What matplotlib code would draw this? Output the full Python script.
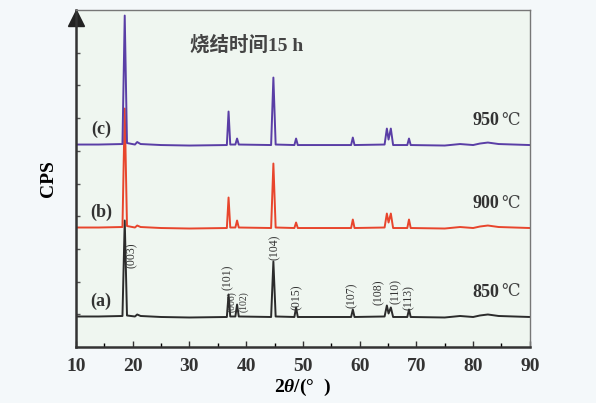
import matplotlib
matplotlib.use("Agg")
import matplotlib.pyplot as plt
import numpy as np

plt.rcParams['mathtext.fontset'] = 'custom'
plt.rcParams['mathtext.it'] = 'Liberation Serif:italic:bold'
plt.rcParams['mathtext.rm'] = 'Liberation Serif:bold'

### 2theta points, shared by the three patterns
two_theta = [10, 14, 18.2, 18.6, 19.0, 20.4, 20.8, 21.4, 25, 30,
             36.6, 36.9, 37.2, 38.1, 38.4, 38.7, 44.4, 44.8, 45.2,
             48.5, 48.8, 49.1, 58.5, 58.8, 59.1, 64.4, 64.8, 65.1, 65.5, 65.9,
             68.4, 68.7, 69.0, 75, 77.7, 80, 81.2, 82.6, 84.5, 90]

### intensities (arbitrary CPS) without the vertical shift
cps_850 = [10, 10, 15, 970, 20, 10, 30, 15, 5, 0,
           5, 230, 10, 10, 130, 10, 5, 560, 10,
           5, 100, 5, 5, 80, 5, 10, 120, 40, 100, 5,
           5, 80, 5, 0, 15, 5, 20, 30, 15, 5]
cps_900 = [10, 10, 15, 1200, 25, 10, 30, 15, 5, 0,
           5, 310, 10, 10, 80, 10, 5, 650, 10,
           5, 60, 5, 5, 90, 5, 10, 150, 60, 150, 5,
           5, 90, 5, 0, 15, 5, 20, 30, 15, 5]
cps_950 = [10, 10, 15, 1300, 25, 10, 35, 15, 5, 0,
           5, 340, 10, 10, 70, 10, 5, 680, 10,
           5, 70, 5, 5, 80, 5, 10, 170, 60, 170, 5,
           5, 70, 5, 0, 15, 5, 20, 30, 15, 5]

series_tags = ["(a)", "(b)", "(c)"]
temps = ["850", "900", "950"]

hkl = ["(003)", "(101)", "(006)", "(102)", "(104)", "(015)",
       "(107)", "(108)", "(110)", "(113)"]
hkl_x = [19.9, 36.8, 37.5, 39.6, 45.1, 48.9, 58.6, 63.4, 66.4, 68.6]
hkl_y = [920, 700, 450, 450, 1000, 500, 520, 550, 550, 490]
hkl_size = [8.5, 8.5, 7, 7, 8.5, 8.5, 8.5, 8.5, 8.5, 8.5]

shift = [295, 1185, 2015]
colors = ["#2b2b2b", "#e8452c", "#5a3ea6"]

fig = plt.figure(figsize=(5.96, 4.03), dpi=100, facecolor="#f4f8fa")
ax = fig.add_axes([0.1274, 0.139, 0.7616, 0.836], facecolor="#eff6f0")

x = np.array(two_theta)
for data, off, c in zip([cps_850, cps_900, cps_950], shift, colors):
    ax.plot(x, np.array(data) + off, color=c, lw=1.4)

serif = ['Liberation Serif', 'DejaVu Serif']
for tag, off in zip(series_tags, shift):
    ax.text(14.4, off + 160, tag, fontsize=13, fontweight='bold',
            family=serif, color="#333333", ha='center', va='center')
for t, off in zip(temps, shift):
    ax.text(84.6, off + 250, t, fontsize=13, fontweight='bold',
            family=serif, color="#333333", ha='right', va='center')
    ax.text(85.0, off + 250, "\u2103", fontsize=12,
            family=serif, color="#444444", ha='left', va='center')

for lab, hx, hy, fs in zip(hkl, hkl_x, hkl_y, hkl_size):
    ax.text(hx, hy, lab, rotation=90, fontsize=fs, family=serif,
            color="#333333", ha='center', va='center')

ax.text(0.375, 0.896, "烧结时间15 h", transform=ax.transAxes, fontsize=14,
        fontweight='bold', family=['Liberation Serif', 'Noto Sans CJK SC'],
        color="#444444", ha='center', va='center')

ax.set_xlim(10, 90)
ax.set_ylim(0, 3370)
ax.set_xticks(np.arange(10, 91, 10))
ax.set_xticks(np.arange(15, 90, 10), minor=True)
ax.set_yticks(np.arange(327, 3300, 327))
ax.set_yticklabels([])
ax.tick_params(axis='x', direction='in', length=4, width=1, colors="#333333",
               labelsize=14, pad=8)
ax.tick_params(axis='x', which='minor', direction='in', length=3, width=1)
ax.tick_params(axis='y', direction='in', length=3, width=1, colors="#555555")
for lab in ax.get_xticklabels():
    lab.set_fontweight('bold')
    lab.set_family(serif)

for s in ['left', 'bottom']:
    ax.spines[s].set_color("#333333")
    ax.spines[s].set_linewidth(1.8)
for s in ['top', 'right']:
    ax.spines[s].set_color("#777777")
    ax.spines[s].set_linewidth(1.0)

ax.plot([0], [0.975], marker='^', ms=11, color="#222222",
        transform=ax.transAxes, clip_on=False)

ax.set_xlabel(r"2$\mathit{\theta}$/(°  )", fontsize=14, family=serif,
              fontweight='bold', labelpad=1)
ax.set_ylabel("CPS", fontsize=14, family=serif, fontweight='bold', labelpad=10)

fig.savefig("out.png", dpi=100, facecolor=fig.get_facecolor())
